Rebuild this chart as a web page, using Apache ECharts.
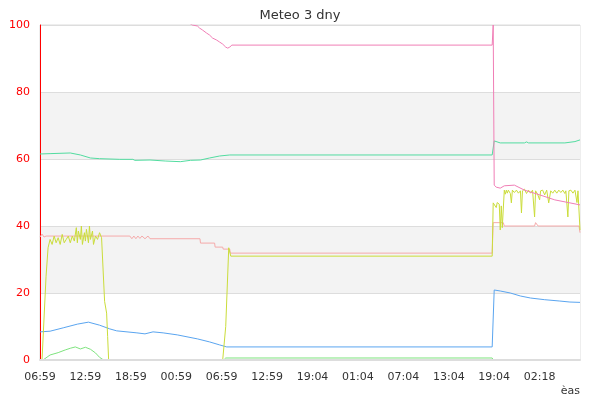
<!DOCTYPE html>
<html>
<head>
<meta charset="utf-8">
<script src="https://cdn.jsdelivr.net/npm/echarts@6/dist/echarts.min.js"></script>
<style>
  html, body { margin: 0; padding: 0; background: #fff; }
  #chart { width: 600px; height: 400px; }
</style>
</head>
<body>
<div id="chart"></div>
<script>
// x = sample index, a label every 45 samples
const tickLabels = ['06:59', '12:59', '18:59', '00:59', '06:59', '12:59', '19:04', '01:04', '07:04', '13:04', '19:04', '02:18']

// [sample, teplota C]
const pinkData = [
  [0, 104], [109, 104], [148, 100.5], [151, 100], [156, 99.7], [158, 99.1], [161, 98.5], [165, 97.6],
  [168, 97], [171, 96.1], [175, 95.5], [178, 94.9], [181, 94.3], [184, 93.4], [186, 93.1], [188, 93.4],
  [190, 94], [448, 94], [449, 100], [450, 52.2], [452, 51.6], [456, 51.3], [460, 52], [470, 52.2],
  [480, 50.7], [495, 49.3], [510, 47.8], [525, 46.9], [535, 46.3]
]
const tealData = [
  [0, 61.5], [10, 61.6], [30, 61.8], [40, 61.2], [50, 60.3], [59, 60.1], [79, 59.9], [92, 59.9], [94, 59.6],
  [109, 59.7], [124, 59.4], [139, 59.2], [149, 59.6], [159, 59.7], [168, 60.3], [178, 60.9], [188, 61.2],
  [448, 61.2], [450, 65.4], [456, 64.8], [480, 64.8], [482, 65.1], [484, 64.8], [520, 64.8], [530, 65.2], [535, 65.7]
]
const salmonData = [
  [0, 36.7], [2, 37.6], [4, 36.7], [6, 37], [89, 37], [91, 36.2], [93, 37], [95, 36.2], [97, 37], [99, 36.3],
  [101, 37], [104, 36.2], [107, 37], [109, 36.2], [158.5, 36.2], [159, 34.9], [173, 34.9], [173.5, 33.7],
  [181, 33.7], [181.5, 33.1], [188, 33.1], [188.5, 31.9], [448, 31.9], [449, 41], [459, 41], [460, 40],
  [490, 40], [491, 41], [492.5, 41], [493.5, 40], [534, 40], [535, 38]
]
const yellowData = [
  [0, 0], [2, 0], [6, 25], [8, 33.5], [10, 36], [12, 34.5], [14, 37], [16, 35], [18, 36.5], [20, 34.5],
  [22, 37.5], [24, 35], [26, 36], [28, 37], [30, 35], [32, 37], [34, 35.5], [36, 39.5], [37, 35],
  [38, 38.5], [40, 36], [41, 40], [42, 34.5], [44, 38], [45, 35.5], [46, 39], [48, 35], [49, 40], [50, 36],
  [52, 38.5], [53, 34.5], [55, 37], [57, 36], [59, 38], [61, 36.5], [62, 37], [64, 17.5], [66, 14],
  [67, 7], [68, 0], [181, 0], [184, 10], [187, 33.5], [189, 31], [448, 31], [449, 46.9], [450, 47],
  [452, 45.5], [453, 47], [455, 46.5], [456, 38.8], [457, 46], [458, 39.5], [460, 50.7], [461, 49.5],
  [462, 50.7], [463, 49.8], [464, 50.7], [466, 49.7], [467, 46.9], [468, 50.7], [470, 50], [472, 50.7],
  [474, 49.8], [476, 50.5], [477, 43.9], [478, 50.5], [480, 51], [482, 49.7], [484, 50.7], [486, 49.8],
  [488, 50.7], [490, 42.7], [491, 50.5], [493, 49.5], [495, 47.8], [496, 50.5], [498, 50.7], [500, 49.3],
  [502, 50.7], [504, 46.9], [506, 50.5], [508, 49.8], [510, 50.7], [512, 49.8], [514, 50.7], [516, 50],
  [518, 50.7], [520, 49.7], [521, 50.5], [523, 42.7], [524, 50.5], [526, 50.7], [528, 49.8], [530, 50.7],
  [532, 47], [533, 50.5], [534, 50], [535, 38.8]
]
const blueData = [
  [0, 8.4], [10, 8.6], [23, 9.6], [37, 10.7], [48, 11.3], [59, 10.4], [69, 9.3], [76, 8.7], [96, 8.1],
  [104, 7.8], [112, 8.4], [122, 8.1], [136, 7.5], [156, 6.3], [168, 5.4], [178, 4.5], [185, 3.9],
  [448, 3.9], [450, 20.9], [456, 20.6], [466, 20], [476, 19.1], [486, 18.5], [500, 18], [515, 17.6],
  [525, 17.3], [535, 17.2]
]
const greenData = [
  [0, 0], [3, 0], [10, 1.5], [18, 2.2], [25, 3], [30, 3.5], [35, 3.9], [40, 3.3], [45, 3.8], [50, 3.2],
  [55, 2.1], [59, 0.8], [63, 0], [182, 0], [184, 0.6], [448, 0.6], [449, 0], [535, 0]
]

const font = 'DejaVu Sans'

function line(data, color) {
  return {
    type: 'line',
    data: data,
    showSymbol: false,
    clip: true,
    lineStyle: { width: 1, color: color },
    itemStyle: { color: color }
  }
}

const chart = echarts.init(document.getElementById('chart'))
chart.setOption({
  animation: false,
  backgroundColor: '#fff',
  title: {
    text: 'Meteo 3 dny',
    left: 'center',
    top: 4,
    textStyle: { fontFamily: font, fontSize: 13, fontWeight: 'normal', color: '#333' }
  },
  grid: {
    left: 40, right: 20, top: 25, bottom: 40,
    outerBoundsMode: 'none',
    containLabel: false,
    show: true,
    borderColor: '#ddd',
    borderWidth: 1
  },
  xAxis: {
    type: 'value',
    min: 0,
    max: 535,
    interval: 45,
    z: 5,
    name: 'èas',
    nameLocation: 'end',
    nameGap: 0,
    nameTextStyle: { fontFamily: font, fontSize: 11, color: '#333', align: 'right', verticalAlign: 'top', padding: [26, 0, 0, 0] },
    axisLine: { show: true, lineStyle: { color: '#ddd', width: 2 } },
    axisTick: { show: false },
    splitLine: { show: false },
    axisLabel: {
      fontFamily: font, fontSize: 11, color: '#333', margin: 12,
      showMaxLabel: false,
      formatter: (v) => (v % 45 === 0 ? (tickLabels[v / 45] || '') : '')
    }
  },
  yAxis: {
    type: 'value',
    min: 0,
    max: 100,
    interval: 20,
    name: 'teploty C',
    nameLocation: 'middle',
    nameGap: 26,
    nameTextStyle: { fontFamily: font, fontSize: 11, color: '#333' },
    axisLine: { show: true, lineStyle: { color: '#ff0000', width: 1 } },
    axisTick: { show: false },
    axisLabel: { fontFamily: font, fontSize: 11, color: '#ff0000', margin: 10 },
    splitLine: { show: true, lineStyle: { color: '#ddd' } },
    splitArea: { show: true, areaStyle: { color: ['#ffffff', '#f3f3f3'] } }
  },
  series: [
    line(salmonData, '#f5aaaa'),
    line(greenData, '#7ee37e'),
    line(blueData, '#5aa5f0'),
    line(tealData, '#52dca0'),
    line(yellowData, '#cadc3a'),
    line(pinkData, '#f07eb6')
  ]
})
</script>
</body>
</html>
